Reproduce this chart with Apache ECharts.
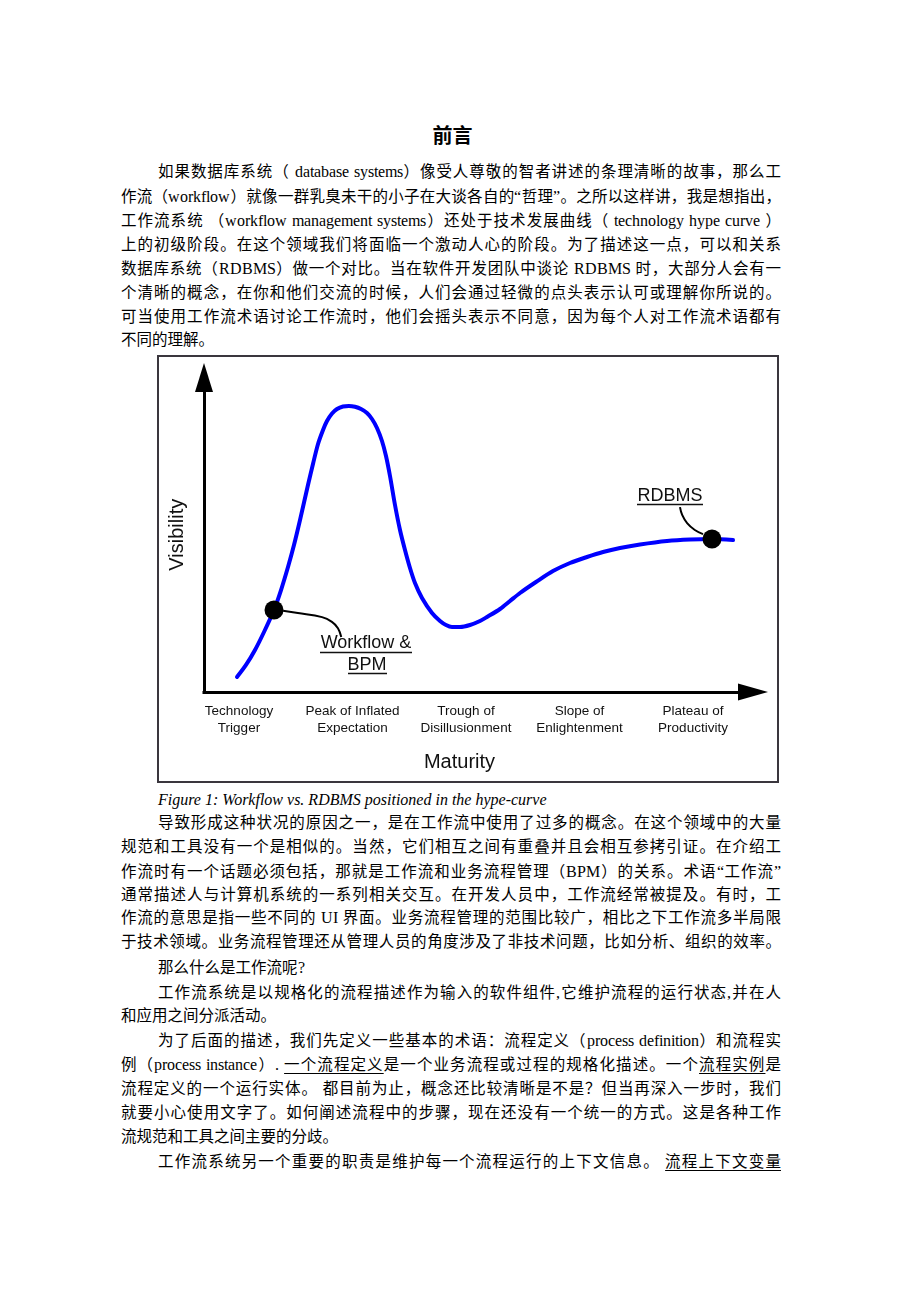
<!DOCTYPE html>
<html>
<head>
<meta charset="utf-8">
<script src="https://cdn.jsdelivr.net/npm/echarts@6/dist/echarts.min.js"></script>
<style>
@font-face { font-family: "BodyLatin"; src: local("Liberation Serif"); size-adjust: 104%; unicode-range: U+0000-00FF, U+2018-201D; }
body { margin: 0; background: #fff; }
#page { position: relative; width: 920px; height: 1302px; font-family: "BodyLatin", "Liberation Serif", "Noto Sans CJK SC", serif; font-size: 15.5px; color: #000; }
.ln { position: absolute; left: 121px; width: 660px; height: 24px; line-height: 24px; text-align: justify; text-align-last: justify; }
.ln.in { left: 158px; width: 623px; }
.ln.end { text-align-last: left; }
u { text-decoration: underline; text-underline-offset: 3px; }
#title { position: absolute; left: 0; width: 905px; top: 121px; text-align: center; font-family: "Noto Sans CJK SC"; font-weight: bold; font-size: 20px; line-height: 28px; }
#caption { position: absolute; left: 158px; top: 788px; line-height: 24px; font-size: 16px; font-style: italic; font-family: "Liberation Serif"; }
#chart { position: absolute; left: 157px; top: 355px; width: 622px; height: 428px; }
</style>
</head>
<body>
<div id="page">
  <div id="title">前言</div>
  <div class="ln in" style="top:160px">如果数据库系统（ database systems）像受人尊敬的智者讲述的条理清晰的故事，那么工</div>
  <div class="ln" style="top:185px">作流（workflow）就像一群乳臭未干的小子在大谈各自的“哲理”。之所以这样讲，我是想指出，</div>
  <div class="ln" style="top:209px">工作流系统 （workflow management systems）还处于技术发展曲线（ technology hype curve ）</div>
  <div class="ln" style="top:233px">上的初级阶段。在这个领域我们将面临一个激动人心的阶段。为了描述这一点，可以和关系</div>
  <div class="ln" style="top:257px">数据库系统（RDBMS）做一个对比。当在软件开发团队中谈论 RDBMS 时，大部分人会有一</div>
  <div class="ln" style="top:281px">个清晰的概念，在你和他们交流的时候，人们会通过轻微的点头表示认可或理解你所说的。</div>
  <div class="ln" style="top:305px">可当使用工作流术语讨论工作流时，他们会摇头表示不同意，因为每个人对工作流术语都有</div>
  <div class="ln end" style="top:328px">不同的理解。</div>

  <div id="chart"></div>

  <div id="caption">Figure 1: Workflow vs. RDBMS positioned in the hype-curve</div>
  <div class="ln in" style="top:811px">导致形成这种状况的原因之一，是在工作流中使用了过多的概念。在这个领域中的大量</div>
  <div class="ln" style="top:835px">规范和工具没有一个是相似的。当然，它们相互之间有重叠并且会相互参拷引证。在介绍工</div>
  <div class="ln" style="top:860px">作流时有一个话题必须包括，那就是工作流和业务流程管理（BPM）的关系。术语“工作流”</div>
  <div class="ln" style="top:883px">通常描述人与计算机系统的一系列相关交互。在开发人员中，工作流经常被提及。有时，工</div>
  <div class="ln" style="top:906px">作流的意思是指一些不同的 UI 界面。业务流程管理的范围比较广，相比之下工作流多半局限</div>
  <div class="ln" style="top:930px">于技术领域。业务流程管理还从管理人员的角度涉及了非技术问题，比如分析、组织的效率。</div>
  <div class="ln in end" style="top:956px">那么什么是工作流呢?</div>
  <div class="ln in" style="top:981px">工作流系统是以规格化的流程描述作为输入的软件组件,它维护流程的运行状态,并在人</div>
  <div class="ln end" style="top:1004px">和应用之间分派活动。</div>
  <div class="ln in" style="top:1029px">为了后面的描述，我们先定义一些基本的术语：流程定义（process definition）和流程实</div>
  <div class="ln" style="top:1053px">例（process instance）. <u>一个流程定义</u>是一个业务流程或过程的规格化描述。一个<u>流程实例</u>是</div>
  <div class="ln" style="top:1077px">流程定义的一个运行实体。 都目前为止，概念还比较清晰是不是？但当再深入一步时，我们</div>
  <div class="ln" style="top:1101px">就要小心使用文字了。如何阐述流程中的步骤，现在还没有一个统一的方式。这是各种工作</div>
  <div class="ln end" style="top:1125px">流规范和工具之间主要的分歧。</div>
  <div class="ln in" style="top:1150px">工作流系统另一个重要的职责是维护每一个流程运行的上下文信息。 <u>流程上下文变量</u></div>
</div>

<script>
// hype curve (x: maturity 0-100, y: visibility 0-100)
var curveX = [6.01, 7.65, 9.29, 10.93, 12.75, 14.03, 15.30, 16.39, 17.49, 18.94, 19.85, 20.77, 21.68, 22.40, 23.32, 24.23, 25.32, 26.41, 27.50, 28.60,
  29.69, 30.60, 31.51, 32.42, 33.15, 33.88, 34.79, 35.70, 36.61, 37.52, 38.43, 39.71, 41.53, 42.99, 44.08, 45.17, 46.63, 48.45, 50.27, 51.55,
  53.92, 55.74, 57.56, 60.47, 63.57, 66.67, 69.76, 72.68, 75.77, 79.42, 84.34, 88.52, 92.53, 96.36];
var curveY = [4.77, 8.59, 13.35, 19.08, 26.07, 32.43, 39.75, 46.74, 54.69, 65.82, 72.50, 78.86, 83.31, 86.17, 88.55, 89.98, 90.78, 90.94, 90.68, 89.98,
  88.71, 86.80, 83.94, 79.81, 75.04, 68.68, 59.46, 51.51, 45.15, 39.43, 34.66, 29.89, 25.12, 22.58, 21.30, 20.67, 20.67, 21.30, 22.58, 23.85,
  26.39, 28.93, 31.48, 34.98, 38.47, 41.02, 42.93, 44.52, 45.79, 46.90, 48.01, 48.49, 48.65, 48.33];

// positions of Workflow & BPM and RDBMS on the curve
var dotX = [12.75, 92.53];
var dotY = [26.07, 48.65];

// leader lines from the dots to their labels
var wfLeaderX = [14.4, 17.1, 21.5, 23.3, 24.4, 25.0];
var wfLeaderY = [25.8, 25.1, 23.8, 22.3, 20.3, 17.5];
var dbLeaderX = [86.7, 87.1, 88.0, 89.4, 90.9];
var dbLeaderY = [58.8, 56.3, 53.7, 51.5, 50.2];

var stages = ['Technology\nTrigger', 'Peak of Inflated\nExpectation', 'Trough of\nDisillusionment', 'Slope of\nEnlightenment', 'Plateau of\nProductivity'];

function zip(xs, ys) {
  return xs.map(function (x, i) { return [x, ys[i]]; });
}

var sans = 'Liberation Sans';
var axisLine = function (size) {
  return {
    show: true,
    symbol: ['none', 'triangle'],
    symbolSize: size,
    lineStyle: { color: '#000', width: 3, cap: 'square' }
  };
};

var myChart = echarts.init(document.getElementById('chart'));
var option = {
  animation: false,
  grid: [
    { left: 47, right: 26, top: 22.5, bottom: 91 },
    { left: 25.25, right: 29.25, top: 22.5, bottom: 91 }
  ],
  xAxis: [
    {
      type: 'value', gridIndex: 0, min: 0, max: 100,
      axisLine: axisLine([17, 30]),
      axisTick: { show: false }, axisLabel: { show: false }, splitLine: { show: false }
    },
    {
      type: 'category', gridIndex: 1, data: stages,
      axisLine: { show: false }, axisTick: { show: false },
      axisLabel: { interval: 0, margin: 11, fontSize: 13.5, lineHeight: 17, color: '#111', fontFamily: sans },
      name: 'Maturity', nameLocation: 'middle', nameGap: 60,
      nameTextStyle: { fontSize: 20, fontFamily: sans, color: '#111', padding: [0, 13, 0, 0] }
    }
  ],
  yAxis: [
    {
      type: 'value', gridIndex: 0, min: 0, max: 100,
      axisLine: axisLine([18, 29]),
      axisTick: { show: false }, axisLabel: { show: false }, splitLine: { show: false },
      name: 'Visibility', nameLocation: 'middle', nameGap: 17,
      nameTextStyle: { fontSize: 20, fontFamily: sans, color: '#111' }
    },
    { type: 'value', gridIndex: 1, show: false }
  ],
  series: [
    {
      type: 'line', data: zip(curveX, curveY), smooth: 0.3, symbol: 'none', z: 2,
      lineStyle: { color: '#0000ff', width: 4, cap: 'round', join: 'round' }
    },
    {
      type: 'line', data: zip(wfLeaderX, wfLeaderY), smooth: 0.4, symbol: 'none', z: 3,
      lineStyle: { color: '#000', width: 2 }
    },
    {
      type: 'line', data: zip(dbLeaderX, dbLeaderY), smooth: 0.4, symbol: 'none', z: 3,
      lineStyle: { color: '#000', width: 2 }
    },
    {
      type: 'scatter', data: zip(dotX, dotY), symbolSize: 19, z: 4,
      itemStyle: { color: '#000', opacity: 1 }
    }
  ],
  graphic: [
    { type: 'rect', shape: { x: 1, y: 1, width: 620, height: 426 }, style: { fill: 'transparent', stroke: '#3a363d', lineWidth: 2 } },
    { type: 'text', x: 209, y: 288, style: { text: 'Workflow &', fontSize: 18, fontFamily: sans, fill: '#111', align: 'center', verticalAlign: 'middle' } },
    { type: 'line', shape: { x1: 163, y1: 297.5, x2: 255, y2: 297.5 }, style: { stroke: '#111', lineWidth: 1.5 } },
    { type: 'text', x: 210, y: 310, style: { text: 'BPM', fontSize: 18, fontFamily: sans, fill: '#111', align: 'center', verticalAlign: 'middle' } },
    { type: 'line', shape: { x1: 191, y1: 318.5, x2: 230, y2: 318.5 }, style: { stroke: '#111', lineWidth: 1.5 } },
    { type: 'text', x: 513, y: 141, style: { text: 'RDBMS', fontSize: 18, fontFamily: sans, fill: '#111', align: 'center', verticalAlign: 'middle' } },
    { type: 'line', shape: { x1: 480, y1: 149.5, x2: 546, y2: 149.5 }, style: { stroke: '#111', lineWidth: 1.5 } }
  ]
};
myChart.setOption(option);
</script>
</body>
</html>
